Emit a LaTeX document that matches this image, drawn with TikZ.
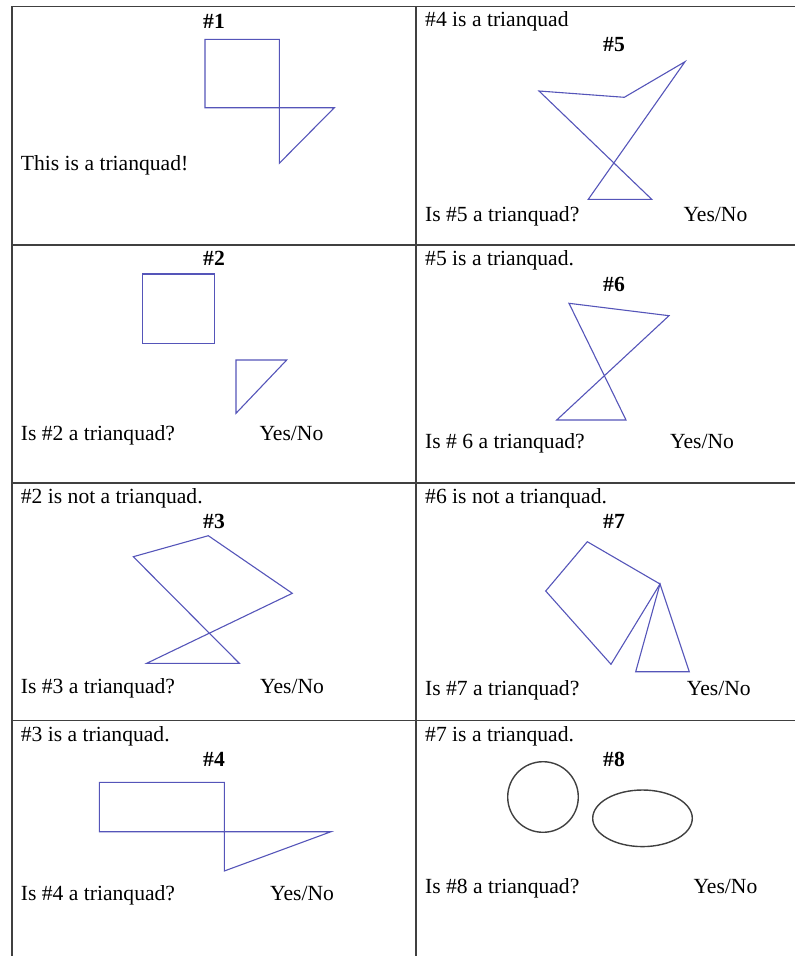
\documentclass[tikz,border=0pt]{standalone}
\usepackage{fontspec}
\setmainfont{Liberation Serif}
\definecolor{shapeblue}{RGB}{85,85,185}
\definecolor{gridgray}{RGB}{64,64,64}
\begin{document}
\begin{tikzpicture}[x=1pt,y=-1pt,
  txt/.style={anchor=base west,inner sep=0pt,font=\fontsize{21.6}{26}\selectfont},
  lbl/.style={anchor=base,inner sep=0pt,font=\fontsize{21.6}{26}\selectfont\bfseries},
  shp/.style={draw=shapeblue,line width=1.1pt,line join=miter},
  ovl/.style={draw=black!75,line width=1.4pt},
  grid/.style={draw=gridgray,line width=1.5pt}]
\useasboundingbox (0,0) rectangle (795,956);
% table grid
\draw[grid] (12,956) -- (12,6.7) -- (795,6.7);
\draw[grid] (416,6.7) -- (416,956);
\draw[grid] (12,245) -- (795,245);
\draw[grid] (12,483) -- (795,483);
\draw[grid] (12,720.5) -- (795,720.5);
% cell 1
\node[lbl] (n1) at (214,28.3) {\#1};
\draw[shp] (205,107.7) -- (205,39.3) -- (279.3,39.3) -- (279.3,163.3) -- (334.3,107.7) -- cycle;
\node[txt] (t1) at (20.7,170) {This is a trianquad!};
% cell 4 (top right)
\node[txt] (t4a) at (425,26.7) {\#4 is a trianquad};
\node[lbl] (n5) at (614,51.7) {\#5};
\draw[shp] (539,91) -- (624.3,97.3) -- (685,61.7) -- (588.3,199.3) -- (651.7,199.3) -- cycle;
\node[txt] (q5) at (425,221.7) {Is \#5 a trianquad?};
\node[txt] (y5) at (683.3,221.7) {Yes/No};
% cell 2
\node[lbl] (n2) at (214,265) {\#2};
\draw[shp] (142.7,274) rectangle (214.3,343.3);
\draw[shp] (236,360) -- (286.7,360) -- (236,413.3) -- cycle;
\node[txt] (q2) at (20.7,440) {Is \#2 a trianquad?};
\node[txt] (y2) at (259.3,440) {Yes/No};
% cell 5
\node[txt] (t5a) at (425,265) {\#5 is a trianquad.};
\node[lbl] (n6) at (614,291.7) {\#6};
\draw[shp] (569,303.3) -- (669,315.7) -- (556.7,420) -- (626,420) -- cycle;
\node[txt] (q6) at (425,448.3) {Is \# 6 a trianquad?};
\node[txt] (y6) at (670,448.3) {Yes/No};
% cell 3
\node[txt] (t3a) at (20.7,503.3) {\#2 is not a trianquad.};
\node[lbl] (n3) at (214,528.3) {\#3};
\draw[shp] (133.3,556.7) -- (208.3,535.7) -- (292.3,593.3) -- (146.7,663.3) -- (239.3,663.3) -- cycle;
\node[txt] (q3) at (20.7,693.3) {Is \#3 a trianquad?};
\node[txt] (y3) at (260,693.3) {Yes/No};
% cell 6
\node[txt] (t6a) at (425,503.3) {\#6 is not a trianquad.};
\node[lbl] (n7) at (614,528.3) {\#7};
\draw[shp] (587.3,541.7) -- (660,584) -- (611,664.3) -- (545.7,591) -- cycle;
\draw[shp] (660,584) -- (635.7,671.7) -- (689.3,671.7) -- cycle;
\node[txt] (q7) at (425,695) {Is \#7 a trianquad?};
\node[txt] (y7) at (686.7,695) {Yes/No};
% cell 7
\node[txt] (t7a) at (20.7,741.7) {\#3 is a trianquad.};
\node[lbl] (n4) at (214,766.7) {\#4};
\draw[shp] (99.3,831.7) -- (99.3,782.3) -- (224.3,782.3) -- (224.3,871) -- (331,831.7) -- cycle;
\node[txt] (q4) at (20.7,900) {Is \#4 a trianquad?};
\node[txt] (y4) at (270,900) {Yes/No};
% cell 8
\node[txt] (t8a) at (425,741.7) {\#7 is a trianquad.};
\node[lbl] (n8) at (614,766.7) {\#8};
\draw[ovl] (543,797) circle [radius=35.3];
\draw[ovl] (642.5,818.3) ellipse [x radius=49.8, y radius=28.3];
\node[txt] (q8) at (425,893.3) {Is \#8 a trianquad?};
\node[txt] (y8) at (693.3,893.3) {Yes/No};
\end{tikzpicture}
\end{document}
